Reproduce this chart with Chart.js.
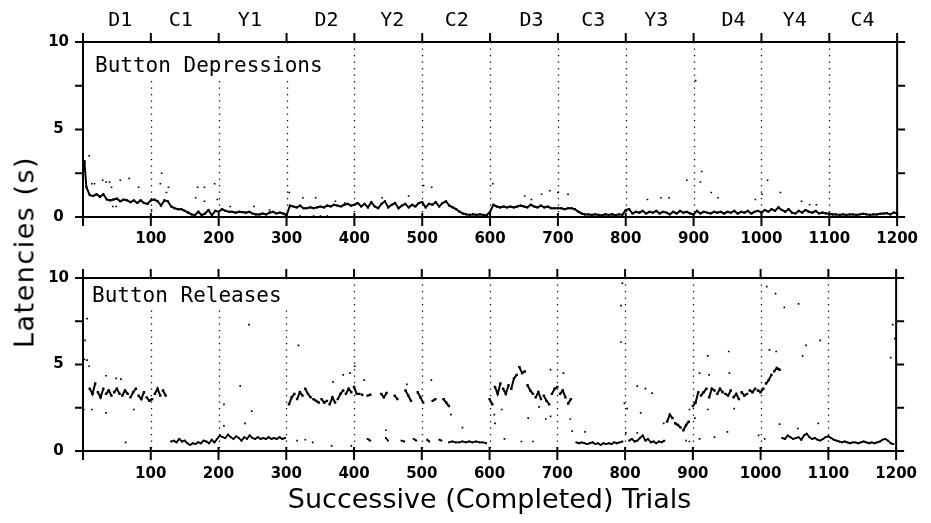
<!DOCTYPE html>
<html><head><meta charset="utf-8">
<script src="https://cdn.jsdelivr.net/npm/chart.js@4.4.1/dist/chart.umd.min.js"></script>
<style>
html,body{margin:0;padding:0;background:#fff;}
#wrap{position:relative;width:931px;height:523px;overflow:hidden;background:#fff;}
canvas{position:absolute;left:0;}
#cTop{top:0;}
#cBot{top:255px;}
#ytitle{position:absolute;left:24px;top:252px;transform:translate(-50%,-50%) rotate(-90deg);font:27px "DejaVu Sans";letter-spacing:1.5px;white-space:nowrap;color:#000;}
</style></head>
<body><div id="wrap">
<canvas id="cTop" width="931" height="250"></canvas>
<canvas id="cBot" width="931" height="268"></canvas>
<div id="ytitle">Latencies (s)</div>
</div>
<script>
// ---------- text / category data ----------
const conditionLabels = ['D1','C1','Y1','D2','Y2','C2','D3','C3','Y3','D4','Y4','C4'];
const conditionCenters = [55,144,246,359,456,551,661,752,845,959,1049,1149];
const boundaryTrials = [100,200,300,400,500,600,700,800,900,1000,1100];
const yMarkValues = [0,2.5,5,7.5,10];
const topPanelLabel = 'Button Depressions';
const bottomPanelLabel = 'Button Releases';
const xTitle = 'Successive (Completed) Trials';

// ---------- Button depressions (top panel) ----------
const depMainTrials = [
  2,5,10,15,20,25,30,35,40,45,
  50,55,60,65,70,75,80,85,90,95,
  100,105,110,115,120,125,130,135,140,145,
  150,155,160,165,170,175,180,185,190,195,
  200,205,210,215,220,225,230,235,240,245,
  250,255,260,265,270,275,280,285,290,295,
  300,305,310,315,320,325,330,335,340,345,
  350,355,360,365,370,375,380,385,390,395,
  400,405,410,415,420,425,430,435,440,445,
  450,455,460,465,470,475,480,485,490,495,
  500,505,510,515,520,525,530,535,540,545,
  550,555,560,565,570,575,580,585,590,595,
  600,605,610,615,620,625,630,635,640,645,
  650,655,660,665,670,675,680,685,690,695,
  700,705,710,715,720,725,730,735,740,745,
  750,755,760,765,770,775,780,785,790,795,
  800,805,810,815,820,825,830,835,840,845,
  850,855,860,865,870,875,880,885,890,895,
  900,905,910,915,920,925,930,935,940,945,
  950,955,960,965,970,975,980,985,990,995,
  1000,1005,1010,1015,1020,1025,1030,1035,1040,1045,
  1050,1055,1060,1065,1070,1075,1080,1085,1090,1095,
  1100,1105,1110,1115,1120,1125,1130,1135,1140,1145,
  1150,1155,1160,1165,1170,1175,1180,1185,1190,1195,
  1200];
const depMainLatency = [
  3.2,1.7,1.25,1.2,1.3,1.15,1.3,1.0,0.95,1.0,
  1.05,0.9,1.0,0.95,0.85,0.95,0.8,0.95,0.8,0.75,
  0.95,1.0,0.9,0.65,0.95,0.9,0.6,0.5,0.45,0.45,
  0.35,0.25,0.15,0.1,0.3,0.1,0.2,0.4,0.1,0.35,
  0.3,0.45,0.35,0.3,0.3,0.25,0.3,0.28,0.25,0.3,
  0.2,0.15,0.15,0.2,0.15,0.25,0.3,0.2,0.25,0.2,
  0.1,0.65,0.6,0.55,0.65,0.5,0.5,0.55,0.5,0.55,
  0.6,0.55,0.65,0.6,0.7,0.65,0.6,0.7,0.75,0.65,
  0.7,0.8,0.6,0.75,0.55,0.85,0.6,0.5,0.75,0.9,
  0.55,0.7,0.8,0.5,0.65,0.75,0.55,0.7,0.6,0.8,
  0.85,0.55,0.75,0.7,0.85,0.6,0.8,0.9,0.65,0.55,
  0.45,0.3,0.2,0.15,0.12,0.15,0.12,0.15,0.12,0.1,
  0.3,0.7,0.6,0.55,0.6,0.55,0.6,0.55,0.6,0.65,
  0.6,0.55,0.7,0.6,0.55,0.65,0.55,0.6,0.5,0.5,
  0.5,0.5,0.45,0.5,0.5,0.45,0.3,0.2,0.15,0.15,
  0.12,0.15,0.12,0.1,0.15,0.12,0.15,0.1,0.15,0.12,
  0.4,0.45,0.2,0.3,0.25,0.35,0.2,0.3,0.25,0.35,
  0.2,0.3,0.25,0.15,0.3,0.2,0.35,0.25,0.3,0.2,
  0.15,0.35,0.2,0.3,0.25,0.2,0.3,0.25,0.3,0.2,
  0.3,0.25,0.35,0.2,0.3,0.25,0.35,0.2,0.3,0.35,
  0.25,0.4,0.3,0.45,0.35,0.55,0.4,0.3,0.45,0.25,
  0.2,0.35,0.25,0.4,0.3,0.25,0.35,0.2,0.25,0.2,
  0.2,0.15,0.15,0.12,0.15,0.12,0.15,0.15,0.12,0.15,
  0.18,0.15,0.12,0.15,0.15,0.18,0.2,0.22,0.15,0.25,
  0.2];
const depOutTrials = [3,9,13,17,29,34,39,42,44,49,55,68,82,101,114,116,123,126,166,169,179,179,194,198,217,252,275,304,324,343,372,386,441,480,502,514,604,651,661,676,688,700,715,832,852,864,890,903,910,912,926,936,991,1001,1009,1028,1059,1071,1081,320,340,350,360];
const depOutLatency = [3.1,3.5,1.9,1.9,2.1,2.0,2.0,1.7,0.6,0.6,2.1,2.2,1.7,0.4,1.9,2.5,1.4,1.7,1.1,1.7,1.7,0.9,1.9,1.0,0.6,0.6,0.4,1.4,1.1,1.1,0.9,0.8,1.1,1.2,1.8,1.7,1.9,1.2,1.0,1.3,1.5,1.4,1.3,1.0,1.1,1.1,2.1,7.8,2.0,2.6,1.4,1.1,1.0,1.3,2.1,1.4,0.9,0.7,0.7,0.05,0.05,0.05,0.05];

// ---------- Button releases (bottom panel) ----------
// slow clusters (D blocks, Y2 upper band, rising runs): short strokes, null = break
const relHighTrials = [
  10,14,18,20, 22,26,30,32, 34,38,42,44, 46,50,54,56, 58,62,66,68,
  70,74,78,80, 82,86,90,92, 94,98,102,104, 106,110,114,116, 118,122,124,
  304,308,312,314, 316,320,324,326, 328,332,336,338, 340,344,348,350,
  352,356,360,362, 364,368,372,374, 376,380,384,386, 388,392,396,398,
  400,404,408,410, 412,414,
  420,424,426, 440,444,448,450, 460,464,466, 476,480,484,486,
  494,498,502,504, 516,520,522, 532,536,540,542,
  600,604,606, 608,612,616,618, 620,624,628,630, 632,636,640,642,
  644,648,652,654, 656,660,664,666, 668,672,676,678, 680,684,688,690,
  692,696,700,702, 704,708,712,714, 716,720,724,
  862,866,870,872, 874,878,882,884, 886,890,894,897,
  900,904,908,910, 912,916,920,922, 924,928,932,934, 936,940,944,946,
  948,952,956,958, 960,964,968,970, 972,976,980,982, 984,988,992,994,
  996,1000,1004,1006, 1008,1012,1016,1018, 1020,1024,1028];
const relHighLatency = [
  3.6,3.3,3.9,null, 3.4,3.1,3.6,null, 3.3,3.5,3.2,null, 3.4,3.6,3.3,null, 3.2,3.5,3.3,null,
  3.1,3.4,3.6,null, 3.2,3.0,3.4,null, 3.1,2.9,3.0,null, 3.3,3.6,3.2,null, 3.5,3.2,null,
  2.7,3.1,3.3,null, 3.0,3.4,3.2,null, 3.6,3.3,3.1,null, 3.0,2.9,2.8,null,
  3.0,2.8,2.9,null, 2.7,3.1,2.8,null, 3.0,3.3,3.5,null, 3.3,3.6,3.4,null,
  3.7,3.3,3.3,null, 3.25,null,
  3.2,3.25,null, 3.3,3.1,3.35,null, 3.2,3.0,null, 3.5,3.2,2.9,null,
  3.4,3.1,2.8,null, 2.9,3.0,null, 3.0,2.8,2.6,null,
  3.0,2.7,null, 3.7,3.3,3.9,null, 3.6,3.3,3.8,null, 3.6,4.2,4.4,null,
  4.85,4.5,4.6,null, 3.8,3.5,3.3,null, 3.1,3.4,3.0,null, 3.2,2.9,2.7,null,
  3.3,3.6,3.7,null, 3.3,3.5,3.1,null, 2.75,3.0,null,
  1.7,2.1,1.9,null, 1.6,1.5,1.35,null, 1.2,1.5,1.7,null,
  2.6,2.8,3.4,null, 3.2,3.4,3.6,null, 3.1,3.6,3.5,null, 3.3,3.6,3.4,null,
  3.3,3.2,3.5,null, 3.1,3.3,3.0,null, 3.4,3.2,3.3,null, 3.5,3.4,3.6,null,
  3.5,3.4,3.6,null, 3.9,4.1,4.4,null, 4.6,4.8,4.7];
// fast clusters (C/Y blocks, Y2 lower band): continuous runs, null = break
const relLowTrials = [
  130,134,138,142,146,150,154,158,162,166,
  170,174,178,182,186,190,194,198,202,206,
  210,214,218,222,226,230,234,238,242,246,
  250,254,258,262,266,270,274,278,282,286,
  290,294,298,301,
  420,424,426,447,450,452,470,474,476,488,
  492,494,508,511,513,526,529,531,540,545,
  550,555,560,565,570,575,580,585,590,595,
  598,
  728,732,736,740,744,748,752,756,760,764,
  768,772,776,780,784,788,792,796,800,
  806,810,814,818,822,826,830,834,838,842,
  846,850,854,858,860,
  1032,1036,1040,1044,1048,1052,1056,1060,1064,1068,
  1072,1076,1080,1084,1088,1092,1096,1100,1104,1108,
  1112,1116,1120,1124,1128,1132,1136,1140,1144,1148,
  1152,1156,1160,1164,1168,1172,1176,1180,1184,1188,
  1192,1196];
const relLowLatency = [
  0.55,0.6,0.5,0.7,0.55,0.6,0.45,0.35,0.45,0.4,
  0.5,0.45,0.6,0.55,0.45,0.65,0.5,0.7,0.9,0.8,
  0.75,0.95,0.8,0.7,0.85,0.75,0.6,0.8,0.7,0.9,
  0.75,0.7,0.8,0.7,0.75,0.7,0.8,0.7,0.75,0.7,
  0.8,0.7,0.75,null,
  0.7,0.6,null,0.75,0.6,null,0.6,0.55,null,0.7,
  0.6,null,0.65,0.55,null,0.65,0.6,null,0.5,0.55,
  0.5,0.5,0.55,0.5,0.55,0.5,0.55,0.5,0.5,0.45,
  null,
  0.5,0.45,0.5,0.45,0.4,0.45,0.5,0.4,0.45,0.35,
  0.45,0.4,0.45,0.4,0.5,0.45,0.5,0.55,null,
  0.6,0.7,0.55,0.6,0.75,0.9,0.6,0.7,0.5,0.55,
  0.45,0.55,0.5,0.6,null,
  0.75,0.7,0.9,0.8,0.7,0.75,0.8,0.65,0.9,1.0,
  0.8,0.7,0.75,0.65,0.6,0.7,0.8,0.85,0.75,0.65,
  0.6,0.55,0.5,0.55,0.5,0.45,0.5,0.5,0.45,0.5,
  0.55,0.5,0.45,0.5,0.45,0.5,0.55,0.65,0.7,0.6,
  0.45,0.4];
const relOutTrials = [2,3,6,6,9,1,13,34,49,56,34,75,63,208,208,232,239,245,249,316,318,328,339,367,369,384,394,396,401,415,447,478,514,543,560,607,608,618,622,647,657,664,673,683,690,690,709,719,722,741,794,794,796,799,801,803,818,830,840,823,857,818,895,903,910,922,922,924,932,951,953,954,961,890,895,910,997,1006,1009,1013,1022,1023,1028,1035,1055,1056,1062,1067,1085,1088,1192,1195,1198];
const relOutLatency = [5.3,6.4,7.65,5.25,4.9,2.4,2.4,4.35,4.2,4.15,2.2,2.4,0.5,2.7,1.45,3.75,1.6,7.3,2.3,0.6,6.1,0.65,0.5,0.3,4.0,4.4,4.5,0.3,4.9,4.1,1.2,3.85,4.1,2.1,1.35,2.1,1.6,2.4,0.7,0.55,1.9,0.55,2.55,1.85,2.0,4.7,4.5,1.85,1.15,1.1,8.4,6.3,9.7,2.75,1.05,2.45,3.75,3.6,3.35,2.2,1.6,1.05,2.4,1.9,4.5,2.4,5.5,4.4,0.8,1.1,5.75,4.5,2.45,0.6,0.55,0.7,0.9,0.7,9.5,5.85,9.1,5.75,1.55,8.3,1.3,8.5,5.5,6.1,1.6,6.4,5.4,7.3,6.5];

// ---------- helpers ----------
const toPoints = (xs, ys) => xs.map((x, i) => ({x: x, y: ys[i]}));
Chart.defaults.color = '#000';
Chart.defaults.font.family = '"DejaVu Sans"';

const framePlugin = {
  id: 'frame',
  beforeDatasetsDraw(chart, args, o) {
    const {ctx, chartArea: a, scales: {x}} = chart;
    ctx.save();
    ctx.strokeStyle = '#000';
    ctx.lineWidth = 1.3;
    ctx.setLineDash([1.3, 5.2]);
    boundaryTrials.forEach(t => {
      const px = Math.round(x.getPixelForValue(t)) + 0.5;
      ctx.beginPath(); ctx.moveTo(px, a.top); ctx.lineTo(px, a.bottom); ctx.stroke();
    });
    ctx.setLineDash([]);
    ctx.fillStyle = '#fff';
    ctx.fillRect(o.boxX0, a.top + 2, o.boxX1 - o.boxX0, o.boxY1 - a.top - 2);
    ctx.fillStyle = '#000';
    ctx.font = '21px "DejaVu Sans Mono"';
    ctx.textBaseline = 'alphabetic';
    ctx.textAlign = 'left';
    ctx.fillText(o.label, o.labelX, o.labelY);
    ctx.restore();
  },
  afterDatasetsDraw(chart, args, o) {
    const {ctx, chartArea: a, scales: {x, y}} = chart;
    ctx.save();
    ctx.strokeStyle = '#000';
    ctx.lineWidth = 2;
    ctx.beginPath();
    ctx.rect(a.left, a.top, a.right - a.left, a.bottom - a.top);
    ctx.stroke();
    x.ticks.forEach(t => {
      const px = x.getPixelForValue(t.value);
      ctx.beginPath(); ctx.moveTo(px, a.bottom - 4); ctx.lineTo(px, a.bottom + 9); ctx.stroke();
      ctx.beginPath(); ctx.moveTo(px, a.top - 9); ctx.lineTo(px, a.top); ctx.stroke();
    });
    yMarkValues.forEach(v => {
      const py = y.getPixelForValue(v);
      ctx.beginPath(); ctx.moveTo(a.left - 8, py); ctx.lineTo(a.left, py); ctx.stroke();
      ctx.beginPath(); ctx.moveTo(a.right, py); ctx.lineTo(a.right + 8, py); ctx.stroke();
    });
    if (o.conditions) {
      ctx.font = '20px "DejaVu Sans Mono"';
      ctx.textAlign = 'center';
      ctx.textBaseline = 'middle';
      ctx.fillStyle = '#000';
      conditionLabels.forEach((lab, i) => {
        ctx.fillText(lab, x.getPixelForValue(conditionCenters[i]), 21);
      });
    }
    ctx.restore();
  }
};

function lineSet(xs, ys, lw, r) {
  return {data: toPoints(xs, ys), showLine: true, spanGaps: false, borderColor: '#000', backgroundColor: '#000',
          borderWidth: lw, pointRadius: r, pointStyle: 'rect', pointBorderWidth: 0, clip: 4};
}
function dotSet(xs, ys) {
  return {data: toPoints(xs, ys), showLine: false, borderColor: '#000', backgroundColor: '#000',
          pointRadius: 1.2, pointStyle: 'rect', pointBorderWidth: 0, clip: 4};
}

function makePanel(id, datasets, isBottom, frameOpts, padTop, axisH, tickPad) {
  return new Chart(document.getElementById(id), {
    type: 'scatter',
    data: {datasets: datasets},
    options: {
      responsive: false, animation: false, events: [],
      layout: {padding: {left: 25, right: 19, top: padTop, bottom: 0}},
      plugins: {legend: {display: false}, tooltip: {enabled: false}, frame: frameOpts},
      scales: {
        x: {
          type: 'linear', min: 0, max: 1200,
          grid: {display: false, drawTicks: false}, border: {display: false},
          ticks: {stepSize: 100, autoSkip: false, maxRotation: 0, padding: tickPad,
                  font: {size: 15, weight: 'bold'}, color: '#000',
                  callback: v => (v === 0 ? '' : String(v))},
          title: isBottom ? {display: true, text: xTitle, color: '#000',
                  font: {size: 27, family: '"DejaVu Sans"'}, padding: {top: 0, bottom: 6}} : {display: false},
          afterFit: s => { s.height = axisH; }
        },
        y: {
          type: 'linear', min: 0, max: 10,
          grid: {display: false, drawTicks: false}, border: {display: false},
          ticks: {stepSize: 5, padding: 14, crossAlign: 'center', font: {size: 15, weight: 'bold'}, color: '#000'},
          afterFit: s => { s.width = 58; }
        }
      }
    },
    plugins: [framePlugin]
  });
}

makePanel('cTop',
  [lineSet(depMainTrials, depMainLatency, 2, 1.5), dotSet(depOutTrials, depOutLatency)],
  false,
  {label: topPanelLabel, labelX: 95, labelY: 72, boxX0: 88, boxX1: 332, boxY1: 81, conditions: true},
  42, 33, 13);
makePanel('cBot',
  [lineSet(relLowTrials, relLowLatency, 1.8, 1.3), lineSet(relHighTrials, relHighLatency, 2, 1.7), dotSet(relOutTrials, relOutLatency)],
  true,
  {label: bottomPanelLabel, labelX: 92, labelY: 47, boxX0: 88, boxX1: 296, boxY1: 53, conditions: false},
  17, 72, 14);
</script>
</body></html>
